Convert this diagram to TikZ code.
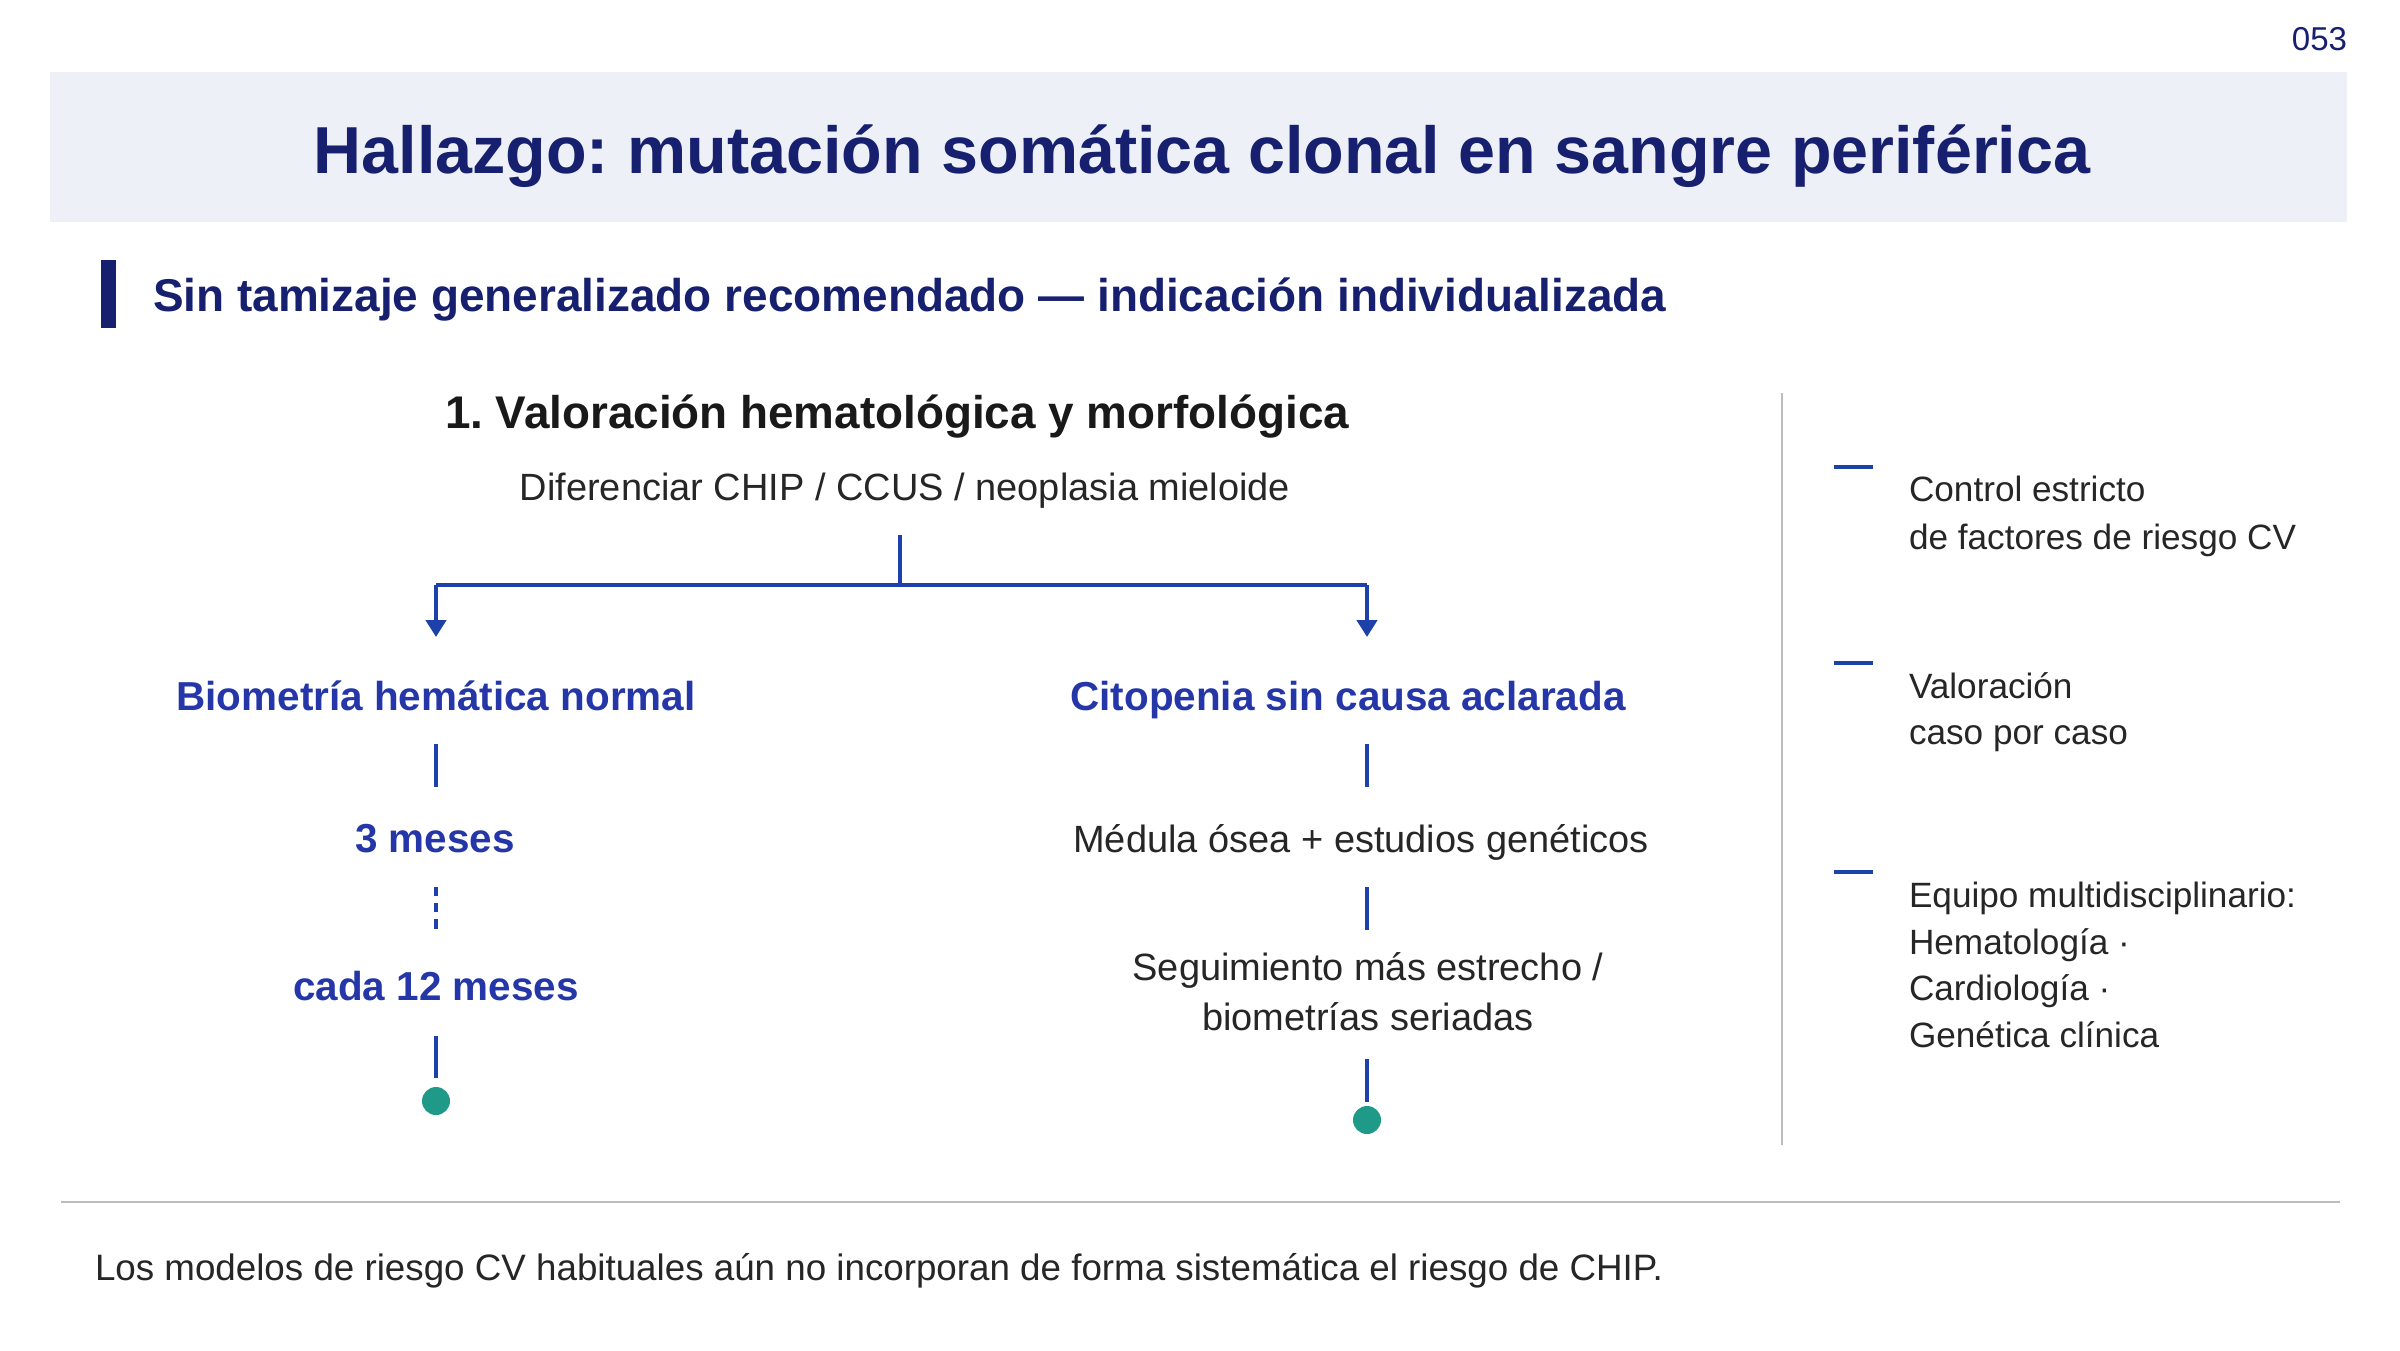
\documentclass[tikz,border=0pt]{standalone}
\usepackage{fontspec}
\setmainfont{Liberation Sans}
\usetikzlibrary{arrows.meta}
\definecolor{navy}{HTML}{16206E}
\definecolor{band}{HTML}{EEF0F8}
\definecolor{branchblue}{HTML}{2536A8}
\definecolor{lineblue}{HTML}{1E40AA}
\definecolor{tealdot}{HTML}{1F9A88}
\definecolor{sepgray}{HTML}{BDBDBD}
\definecolor{txt}{HTML}{262626}
\newcommand{\fs}[1]{\fontsize{#1}{#1}\selectfont}
\frenchspacing
\begin{document}
\begin{tikzpicture}[x=0.01cm,y=-0.01cm,
  every node/.style={inner sep=0pt,outer sep=0pt},
  titletxt/.style={font=\fs{18.9pt}\bfseries,text=navy,anchor=base},
  subtxt/.style={font=\fs{13.06pt}\bfseries,text=navy,anchor=base west},
  headtxt/.style={font=\fs{13.03pt}\bfseries,text=black!90,anchor=base},
  regtxt/.style={font=\fs{10.8pt},text=txt,anchor=base},
  brtxt/.style={font=\fs{11.5pt}\bfseries,text=branchblue,anchor=base},
  sidetxt/.style={font=\fs{10pt},text=txt,anchor=base west},
  foottxt/.style={font=\fs{10.45pt},text=txt,anchor=base west},
  conn/.style={draw=lineblue,line width=1pt},
  branch/.style={draw=lineblue,line width=1.25pt},
  dashconn/.style={draw=lineblue,line width=1pt,dash pattern=on 2.6pt off 2pt},
  sidedash/.style={draw=lineblue,line width=1.2pt},
  arrowtip/.style={-{Triangle[length=0.17cm,width=0.2cm]}},
]
\useasboundingbox[fill=white] (0,0) rectangle (2400,1350);

% page number
\node[font=\fs{9.4pt},text=navy,anchor=base east] (pg) at (2347,50) {053};

% title band
\fill[band] (50,72) rectangle (2347,222);
\node[titletxt] (title) at (1202,173) {Hallazgo: mutación somática clonal en sangre periférica};

% subtitle
\fill[navy] (101,260) rectangle (116,328);
\node[subtxt] (sub) at (153,311) {Sin tamizaje generalizado recomendado — indicación individualizada};

% heading
\node[headtxt] (head) at (897,428) {1. Valoración hematológica y morfológica};
\node[regtxt] (diff) at (905,500) {Diferenciar CHIP / CCUS / neoplasia mieloide};

% branch split
\coordinate (s0) at (900,535);
\coordinate (sj) at (900,585);
\coordinate (sl) at (436,585);
\coordinate (sr) at (1367,585);
\coordinate (al) at (436,637);
\coordinate (ar) at (1367,637);
\draw[branch] (s0) -- (sj);
\draw[branch] (sl) -- (sr);
\draw[branch,arrowtip] (sl) -- (al);
\draw[branch,arrowtip] (sr) -- (ar);

% left column
\node[brtxt] (bn) at (436,710) {Biometría hemática normal};
\node[brtxt] (m3) at (435,852) {3 meses};
\node[brtxt] (m12) at (436,1000) {cada 12 meses};
\coordinate (l1a) at (436,744); \coordinate (l1b) at (436,787);
\coordinate (l2a) at (436,887); \coordinate (l2b) at (436,930);
\coordinate (l3a) at (436,1036); \coordinate (l3b) at (436,1078);
\draw[conn] (l1a) -- (l1b);
\draw[dashconn] (l2a) -- (l2b);
\draw[conn] (l3a) -- (l3b);
\fill[tealdot] (436,1101) circle (0.14cm);

% right column
\node[brtxt] (cit) at (1348,710) {Citopenia sin causa aclarada};
\node[regtxt] (med) at (1361,852) {Médula ósea + estudios genéticos};
\node[regtxt] (seg1) at (1368,980) {Seguimiento más estrecho /};
\node[regtxt] (seg2) at (1368,1030) {biometrías seriadas};
\coordinate (r1a) at (1367,744); \coordinate (r1b) at (1367,787);
\coordinate (r2a) at (1367,887); \coordinate (r2b) at (1367,930);
\coordinate (r3a) at (1367,1059); \coordinate (r3b) at (1367,1102);
\draw[conn] (r1a) -- (r1b);
\draw[conn] (r2a) -- (r2b);
\draw[conn] (r3a) -- (r3b);
\fill[tealdot] (1367,1120) circle (0.14cm);

% separator
\draw[sepgray,line width=0.6pt] (1782,393) -- (1782,1145);

% side notes
\draw[sidedash] (1834,467) -- (1873,467);
\node[sidetxt] (c1) at (1909,501) {Control estricto};
\node[sidetxt] (c2) at (1909,549) {de factores de riesgo CV};
\draw[sidedash] (1834,663) -- (1873,663);
\node[sidetxt] (v1) at (1909,698) {Valoración};
\node[sidetxt] (v2) at (1909,744) {caso por caso};
\draw[sidedash] (1834,872) -- (1873,872);
\node[sidetxt] (e1) at (1909,907) {Equipo multidisciplinario:};
\node[sidetxt] (e2) at (1909,954) {Hematología ·};
\node[sidetxt] (e3) at (1909,1000) {Cardiología ·};
\node[sidetxt] (e4) at (1909,1047) {Genética clínica};

% footer
\draw[sepgray,line width=0.8pt] (61,1202) -- (2340,1202);
\node[foottxt] (foot) at (95,1280) {Los modelos de riesgo CV habituales aún no incorporan de forma sistemática el riesgo de CHIP.};
\end{tikzpicture}
\end{document}
